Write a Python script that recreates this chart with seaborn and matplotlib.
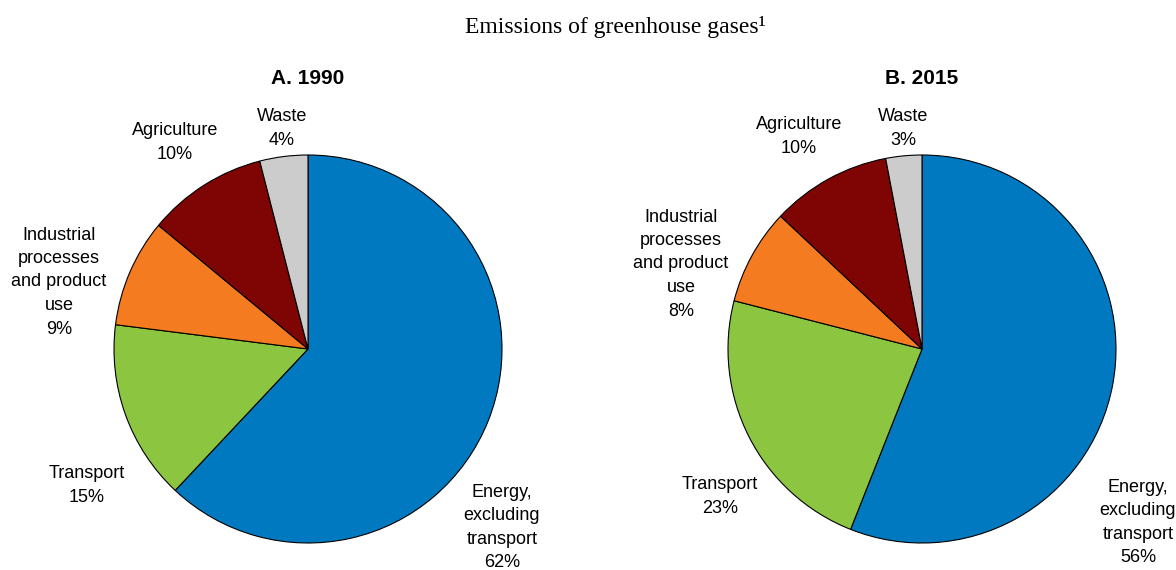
import matplotlib
matplotlib.use("Agg")
import matplotlib.pyplot as plt
import seaborn as sns
import numpy as np

# Sector shares of greenhouse-gas emissions (per cent)
sectors = ["Energy,\nexcluding\ntransport", "Transport",
           "Industrial\nprocesses\nand product\nuse", "Agriculture", "Waste"]
shares_1990 = [62, 15, 9, 10, 4]
shares_2015 = [56, 23, 8, 10, 3]
panel_titles = ["A. 1990", "B. 2015"]

colors = ["#0179C1", "#8CC641", "#F47B20", "#7F0505", "#CCCCCC"]

sns.set_theme(style="white")
plt.rcParams["font.family"] = ["Liberation Sans Narrow", "Liberation Sans", "DejaVu Sans"]
plt.rcParams["text.color"] = "black"

W, H = 1176, 570
fig = plt.figure(figsize=(W / 100, H / 100), dpi=100)
ax = fig.add_axes([0, 0, 1, 1])

# layout: pie centres, radius, label anchor points
radius = 194
centres = [(308, 221), (922, 221)]
label_pos = [
    [(502, 42.5), (87, 84.5), (59, 288), (175, 427.5), (282, 441.5)],
    [(1138, 47.5), (720, 73.5), (681, 306), (799, 433.5), (903, 441.5)],
]

for shares, centre, title, lpos in zip([shares_1990, shares_2015], centres,
                                       panel_titles, label_pos):
    ax.pie(shares, colors=colors, startangle=90, counterclock=False,
           center=centre, radius=radius, frame=True,
           wedgeprops=dict(edgecolor="black", linewidth=0.8))
    ax.text(centre[0], 492, title, ha="center", va="center",
            fontsize=15, fontweight="bold", color="black")
    for name, val, (x, y) in zip(sectors, shares, lpos):
        ax.text(x, y, f"{name}\n{val}%", ha="center", va="center",
                fontsize=13, linespacing=1.5, color="black")

ax.set_xlim(0, W)
ax.set_ylim(0, H)
ax.set_aspect("equal")
ax.axis("off")

fig.text(615 / W, 1 - 27 / H, "Emissions of greenhouse gases\u00b9",
         ha="center", va="center", fontsize=17, color="black",
         family=["Liberation Serif", "DejaVu Serif"])

fig.savefig("out.png", dpi=100)
